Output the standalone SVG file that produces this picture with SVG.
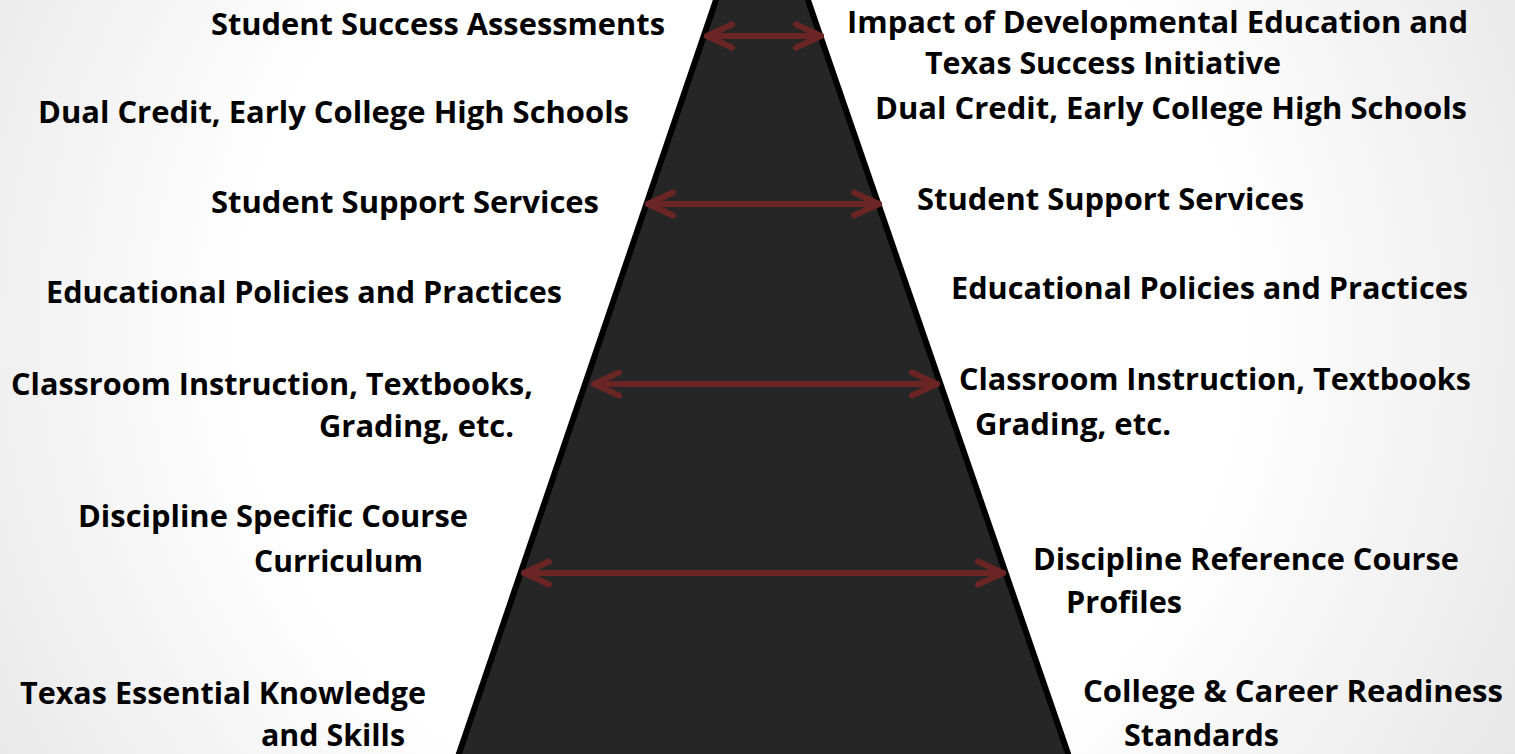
<svg xmlns="http://www.w3.org/2000/svg" width="1515" height="754" viewBox="0 0 1515 754">
<defs>
<radialGradient id="bg" gradientUnits="userSpaceOnUse" cx="740" cy="330" r="900">
<stop offset="0" stop-color="#ffffff"/>
<stop offset="0.55" stop-color="#ffffff"/>
<stop offset="1" stop-color="#e6e6e6"/>
</radialGradient>
<marker id="chev" markerUnits="userSpaceOnUse" viewBox="-32 -16 36 32" refX="0" refY="0" markerWidth="36" markerHeight="32" orient="auto-start-reverse" overflow="visible">
<path d="M-25,-11.5 L0,0 L-25,11.5" fill="none" stroke="#6b2525" stroke-width="6" stroke-linecap="round" stroke-linejoin="round"/>
</marker>
<style>
text{font-family:"Open Sans",Lato,"Liberation Sans",sans-serif;font-weight:700;font-size:31px;fill:#000}
.arrow{fill:none;stroke:#6b2525;stroke-width:6;stroke-linecap:round;marker-start:url(#chev);marker-end:url(#chev)}
.tri{fill:#262626;stroke:#000;stroke-width:6;stroke-linejoin:miter}
</style>
</defs>
<rect x="0" y="0" width="1515" height="754" fill="url(#bg)"/>
<g id="pyramid">
<polygon class="tri" points="761.7,-134 1070.2,760 456.8,760"/>
</g>
<g id="connectors">
<path class="arrow" d="M707,36 H821"/>
<path class="arrow" d="M648,204 H879"/>
<path class="arrow" d="M594,384 H937"/>
<path class="arrow" d="M524,573 H1003"/>
</g>
<g id="left-labels">
<g id="l1"><text x="211" y="35" textLength="454" lengthAdjust="spacingAndGlyphs">Student Success Assessments</text></g>
<g id="l2"><text x="38" y="123" textLength="591" lengthAdjust="spacingAndGlyphs">Dual Credit, Early College High Schools</text></g>
<g id="l3"><text x="211" y="213" textLength="388" lengthAdjust="spacingAndGlyphs">Student Support Services</text></g>
<g id="l4"><text x="46" y="303" textLength="516" lengthAdjust="spacingAndGlyphs">Educational Policies and Practices</text></g>
<g id="l5"><text x="11" y="395" textLength="522" lengthAdjust="spacingAndGlyphs">Classroom Instruction, Textbooks,</text>
<text x="319" y="437" textLength="195" lengthAdjust="spacingAndGlyphs">Grading, etc.</text></g>
<g id="l6"><text x="78" y="527" textLength="390" lengthAdjust="spacingAndGlyphs">Discipline Specific Course</text>
<text x="254" y="572" textLength="169" lengthAdjust="spacingAndGlyphs">Curriculum</text></g>
<g id="l7"><text x="20" y="704" textLength="406" lengthAdjust="spacingAndGlyphs">Texas Essential Knowledge</text>
<text x="261" y="746" textLength="144" lengthAdjust="spacingAndGlyphs">and Skills</text></g>
</g>
<g id="right-labels">
<g id="r1"><text x="847" y="33" textLength="621" lengthAdjust="spacingAndGlyphs">Impact of Developmental Education and</text>
<text x="925" y="74" textLength="356" lengthAdjust="spacingAndGlyphs">Texas Success Initiative</text></g>
<g id="r2"><text x="875" y="119" textLength="592" lengthAdjust="spacingAndGlyphs">Dual Credit, Early College High Schools</text></g>
<g id="r3"><text x="917" y="210" textLength="387" lengthAdjust="spacingAndGlyphs">Student Support Services</text></g>
<g id="r4"><text x="951" y="299" textLength="517" lengthAdjust="spacingAndGlyphs">Educational Policies and Practices</text></g>
<g id="r5"><text x="959" y="390" textLength="512" lengthAdjust="spacingAndGlyphs">Classroom Instruction, Textbooks</text>
<text x="975" y="435" textLength="196" lengthAdjust="spacingAndGlyphs">Grading, etc.</text></g>
<g id="r6"><text x="1033" y="570" textLength="426" lengthAdjust="spacingAndGlyphs">Discipline Reference Course</text>
<text x="1066" y="613" textLength="116" lengthAdjust="spacingAndGlyphs">Profiles</text></g>
<g id="r7"><text x="1083" y="702" textLength="420" lengthAdjust="spacingAndGlyphs">College &amp; Career Readiness</text>
<text x="1124" y="746" textLength="155" lengthAdjust="spacingAndGlyphs">Standards</text></g>
</g>
</svg>
